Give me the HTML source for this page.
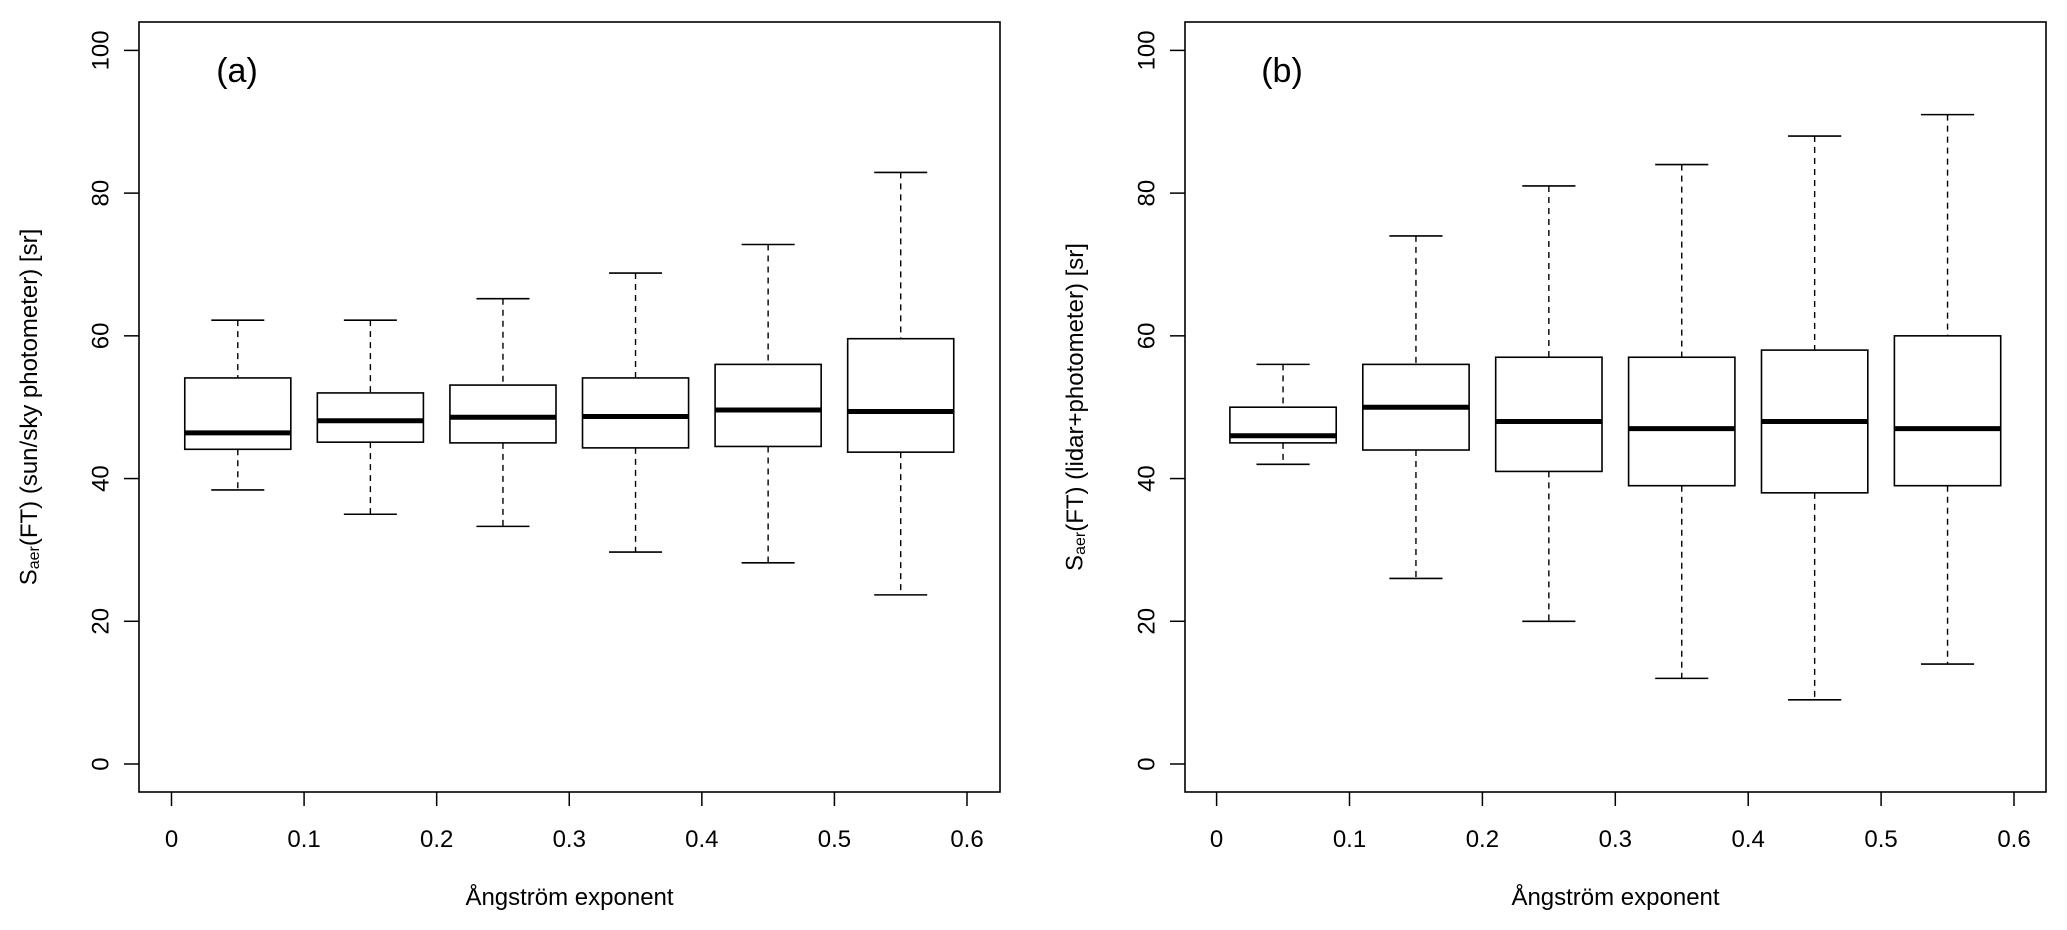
<!DOCTYPE html>
<html><head><meta charset="utf-8"><style>
html,body{margin:0;padding:0;background:#fff;}
svg{display:block;font-family:"Liberation Sans",Arial,sans-serif;}
</style></head>
<body>
<svg id="chart" width="2067" height="930" viewBox="0 0 2067 930"></svg>
<script>
const xTicks = [0, 0.1, 0.2, 0.3, 0.4, 0.5, 0.6];
const xTickLabels = ["0", "0.1", "0.2", "0.3", "0.4", "0.5", "0.6"];
const yTicks = [0, 20, 40, 60, 80, 100];
const centers = [0.05, 0.15, 0.25, 0.35, 0.45, 0.55];
// panel a
const aWhiskHi = [62.2, 62.2, 65.2, 68.8, 72.8, 82.9];
const aQ3 = [54.1, 52, 53.1, 54.1, 56, 59.6];
const aMed = [46.4, 48.1, 48.6, 48.7, 49.6, 49.4];
const aQ1 = [44.1, 45.1, 45, 44.3, 44.5, 43.7];
const aWhiskLo = [38.4, 35, 33.3, 29.7, 28.2, 23.7];
// panel b
const bWhiskHi = [56, 74, 81, 84, 88, 91];
const bQ3 = [50, 56, 57, 57, 58, 60];
const bMed = [46, 50, 48, 47, 48, 47];
const bQ1 = [45, 44, 41, 39, 38, 39];
const bWhiskLo = [42, 26, 20, 12, 9, 14];

const NS = "http://www.w3.org/2000/svg";
const svg = document.getElementById("chart");
function mk(tag, attrs, parent) {
  const e = document.createElementNS(NS, tag);
  for (const k in attrs) e.setAttribute(k, attrs[k]);
  (parent || svg).appendChild(e);
  return e;
}

function panel(opt) {
  const g = mk("g", {});
  
  
  const top = 22, bottom = 792;
  const y100 = 50.4, y0 = 764;
  const ys = v => y0 + (y100 - y0) * v / 100;
  const xs = v => opt.x0 + (opt.x6 - opt.x0) * v / 0.6;
  const frame = mk("rect", {x: opt.left, y: top, width: opt.right - opt.left, height: bottom - top, fill: "none", stroke: "#000", "stroke-width": 1.6}, g);
  
  
  yTicks.forEach(t => {
    const yy = ys(t);
    const tk = mk("line", {x1: opt.left - 15, x2: opt.left, y1: yy, y2: yy, stroke: "#000", "stroke-width": 1.5}, g);
    
    
    const lb = mk("text", {x: opt.left - 38, y: yy, "font-size": 24, "text-anchor": "middle", "dominant-baseline": "central", transform: `rotate(-90 ${opt.left - 38} ${yy})`}, g);
    lb.textContent = String(t);
    
    
  });
  xTicks.forEach((t, i) => {
    const xx = xs(t);
    const tk = mk("line", {x1: xx, x2: xx, y1: bottom, y2: bottom + 14, stroke: "#000", "stroke-width": 1.5}, g);
    
    
    const lb = mk("text", {x: xx, y: 847, "font-size": 24, "text-anchor": "middle"}, g);
    lb.textContent = xTickLabels[i];
    
    
  });
  const xl = mk("text", {x: (opt.left + opt.right) / 2, y: 905, "font-size": 24, "text-anchor": "middle"}, g);
  xl.textContent = "Ångström exponent";
  
  
  const ly = (top + bottom) / 2, lx = opt.left - 110;
  const yl = mk("text", {x: lx, y: ly, "font-size": 24, "text-anchor": "middle", "dominant-baseline": "central", transform: `rotate(-90 ${lx} ${ly})`}, g);
  yl.innerHTML = 'S<tspan font-size="16" dy="5">aer</tspan><tspan dy="-5">' + opt.ylab + '</tspan>';
  
  
  const pl = mk("text", {x: opt.labelX, y: 82, "font-size": 34, "text-anchor": "middle"}, g);
  pl.textContent = opt.label;
  
  
  centers.forEach((c, i) => {
    const bg = mk("g", {}, g);
    
    
    const xc = xs(c), hw = xs(c + 0.04) - xc, cw = xs(c + 0.02) - xc;
    mk("line", {x1: xc, x2: xc, y1: ys(opt.hi[i]), y2: ys(opt.q3[i]), stroke: "#000", "stroke-width": 1.4, "stroke-dasharray": "6,5"}, bg);
    mk("line", {x1: xc, x2: xc, y1: ys(opt.q1[i]), y2: ys(opt.lo[i]), stroke: "#000", "stroke-width": 1.4, "stroke-dasharray": "6,5"}, bg);
    mk("line", {x1: xc - cw, x2: xc + cw, y1: ys(opt.hi[i]), y2: ys(opt.hi[i]), stroke: "#000", "stroke-width": 1.6}, bg);
    mk("line", {x1: xc - cw, x2: xc + cw, y1: ys(opt.lo[i]), y2: ys(opt.lo[i]), stroke: "#000", "stroke-width": 1.6}, bg);
    mk("rect", {x: xc - hw, y: ys(opt.q3[i]), width: 2 * hw, height: ys(opt.q1[i]) - ys(opt.q3[i]), fill: "#fff", stroke: "#000", "stroke-width": 1.6}, bg);
    mk("line", {x1: xc - hw, x2: xc + hw, y1: ys(opt.med[i]), y2: ys(opt.med[i]), stroke: "#000", "stroke-width": 5}, bg);
  });
}

panel({name: "panel-a", left: 139, right: 1000, x0: 171.5, x6: 967, label: "(a)", labelX: 237,
  ylab: "(FT) (sun/sky photometer) [sr]",
  hi: aWhiskHi, q3: aQ3, med: aMed, q1: aQ1, lo: aWhiskLo});
panel({name: "panel-b", left: 1185, right: 2046, x0: 1216.6, x6: 2014, label: "(b)", labelX: 1282,
  ylab: "(FT) (lidar+photometer) [sr]",
  hi: bWhiskHi, q3: bQ3, med: bMed, q1: bQ1, lo: bWhiskLo});
</script>
</body></html>
